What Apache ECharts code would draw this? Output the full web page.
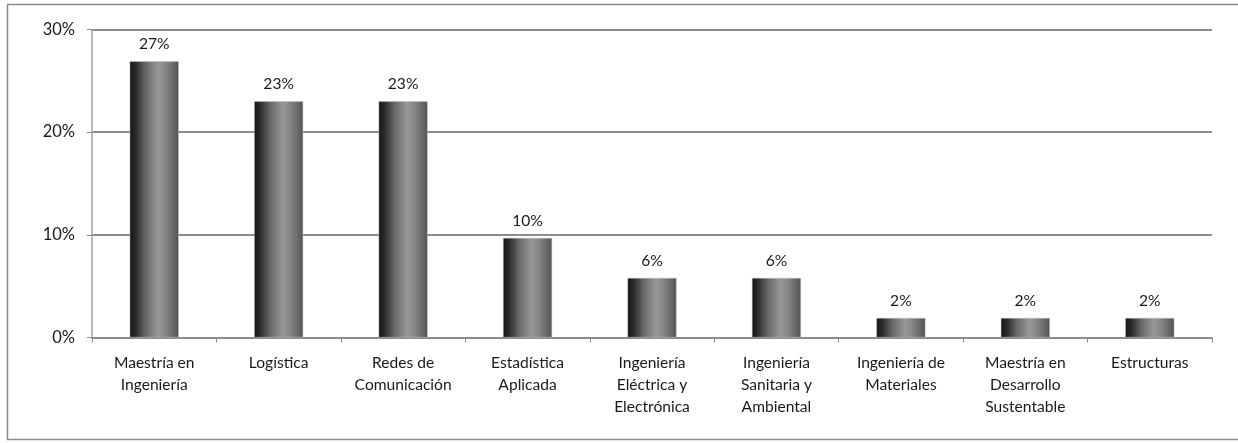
<!DOCTYPE html>
<html>
<head>
<meta charset="utf-8">
<script src="https://cdn.jsdelivr.net/npm/echarts@6/dist/echarts.min.js"></script>
<style>
html,body{margin:0;padding:0;background:#fff;}
#c{width:1238px;height:443px;}
</style>
</head>
<body>
<div id="c"></div>
<script>
const categories = [
  "Maestría en\nIngeniería",
  "Logística",
  "Redes de\nComunicación",
  "Estadística\nAplicada",
  "Ingeniería\nEléctrica y\nElectrónica",
  "Ingeniería\nSanitaria y\nAmbiental",
  "Ingeniería de\nMateriales",
  "Maestría en\nDesarrollo\nSustentable",
  "Estructuras"
];
const values = [26.9, 23.0, 23.0, 9.7, 5.8, 5.8, 1.9, 1.9, 1.9];
const valueLabels = ["27%", "23%", "23%", "10%", "6%", "6%", "2%", "2%", "2%"];
const yTicks = [0, 10, 20, 30];

const font = "Lato, 'Open Sans', sans-serif";
const chart = echarts.init(document.getElementById('c'), null, {renderer: 'canvas'});
const barGradient = new echarts.graphic.LinearGradient(0, 0, 1, 0, [
  {offset: 0, color: '#141414'},
  {offset: 0.12, color: '#2a2a2a'},
  {offset: 0.32, color: '#666666'},
  {offset: 0.58, color: '#97989a'},
  {offset: 0.75, color: '#838383'},
  {offset: 1, color: '#535353'}
]);
chart.setOption({
  animation: false,
  backgroundColor: '#fff',
  graphic: [{
    type: 'rect',
    shape: {x: 7.5, y: 4.5, width: 1240, height: 435},
    style: {fill: 'none', stroke: '#8a8a8a', lineWidth: 1.5},
    silent: true
  }],
  grid: {left: 92, right: 26, top: 29.5, bottom: 105.5, containLabel: false},
  xAxis: {
    type: 'category',
    data: categories,
    axisLine: {show: true, lineStyle: {color: '#8c8c8c', width: 2}},
    axisTick: {show: true, length: 5, alignWithLabel: false, lineStyle: {color: '#8c8c8c', width: 1}},
    axisLabel: {
      interval: 0, fontFamily: font, fontSize: 15.6, color: '#1a1a1a',
      lineHeight: 22, margin: 14
    }
  },
  yAxis: {
    type: 'value',
    min: 0, max: 30, interval: 10,
    axisLine: {show: true, lineStyle: {color: '#a0a0a0', width: 1.5}},
    axisTick: {show: true, length: 5, lineStyle: {color: '#8c8c8c'}},
    splitLine: {show: true, lineStyle: {color: '#8c8c8c', width: 2}},
    axisLabel: {
      fontFamily: font, fontSize: 16.5, color: '#1a1a1a', margin: 17,
      formatter: v => yTicks.includes(v) ? v + '%' : ''
    }
  },
  series: [{
    type: 'bar',
    data: values,
    barWidth: 49,
    itemStyle: {color: barGradient, borderColor: '#bdbdbd', borderWidth: 0.5},
    label: {
      show: true, position: 'top', distance: 9,
      fontFamily: font, fontSize: 15.6, color: '#1a1a1a',
      formatter: p => valueLabels[p.dataIndex]
    }
  }]
});
</script>
</body>
</html>
